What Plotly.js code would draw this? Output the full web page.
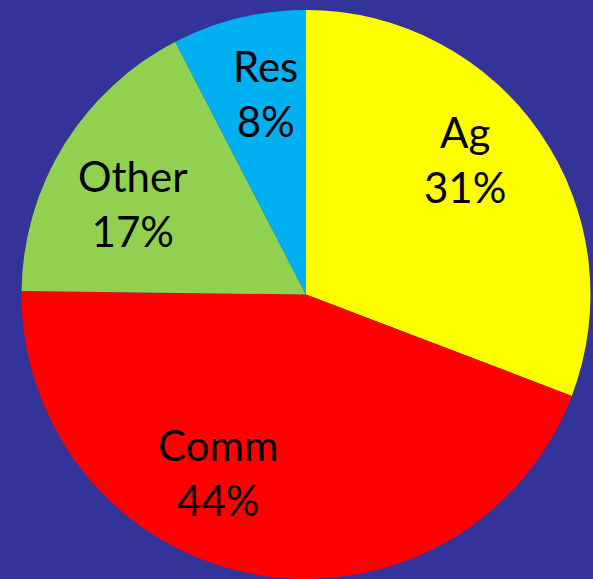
<!DOCTYPE html>
<html>
<head>
<meta charset="utf-8">
<script src="https://cdn.plot.ly/plotly-3.0.1.min.js"></script>
<style>html,body{margin:0;padding:0;background:#343399;}</style>
</head>
<body>
<div id="chart" style="width:593px;height:579px;"></div>
<script>
const categories = ["Ag", "Comm", "Other", "Res"];
const shares = [30.8, 44.4, 17.2, 7.6];
const sliceColors = ["#FFFF00", "#FF0000", "#92D050", "#00B0F0"];

// label anchor positions (pixels in the 593x579 figure) - layout only
const labelPos = [[465, 160], [218, 472], [133, 204], [265, 93]];

const W = 593, H = 579;
const total = shares.reduce((a, b) => a + b, 0);
const annotations = categories.map((c, i) => ({
  xref: "paper", yref: "paper",
  x: labelPos[i][0] / W,
  y: 1 - labelPos[i][1] / H,
  xanchor: "center", yanchor: "middle",
  text: c + "<br>" + Math.round(shares[i] / total * 100) + "%",
  showarrow: false,
  font: {family: "Lato, 'Open Sans', sans-serif", size: 42, color: "#000000"}
}));

Plotly.newPlot("chart", [{
  type: "pie",
  labels: categories,
  values: shares,
  sort: false,
  direction: "clockwise",
  rotation: 0,
  marker: {colors: sliceColors, line: {width: 0}},
  textinfo: "none",
  hoverinfo: "none",
  domain: {x: [0.0354, 0.9966], y: [0, 0.9827]}
}], {
  width: W,
  height: H,
  margin: {l: 0, r: 0, t: 0, b: 0},
  paper_bgcolor: "#343399",
  plot_bgcolor: "#343399",
  showlegend: false,
  annotations: annotations
}, {displayModeBar: false, staticPlot: true});
</script>
</body>
</html>
